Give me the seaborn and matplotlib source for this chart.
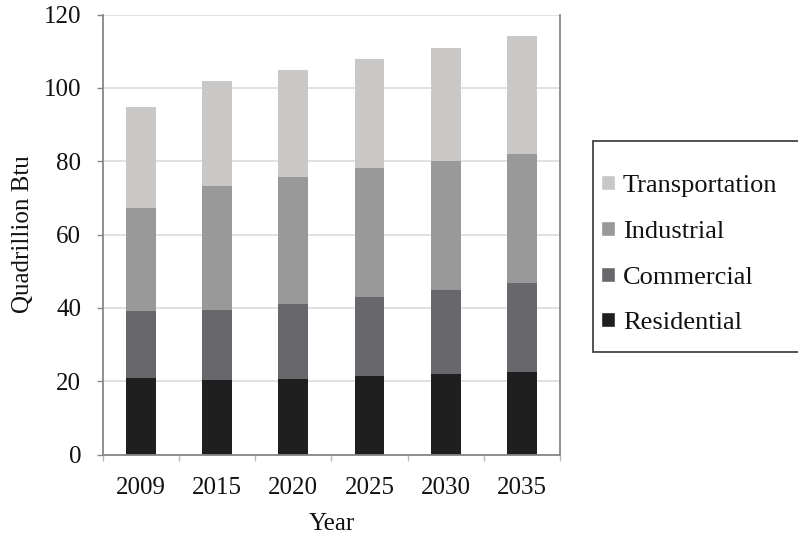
import matplotlib
matplotlib.use("Agg")
import matplotlib.pyplot as plt
import seaborn as sns
import pandas as pd
import numpy as np
from matplotlib.patches import Rectangle, Patch

years = ["2009", "2015", "2020", "2025", "2030", "2035"]
residential = [20.9, 20.3, 20.6, 21.4, 21.9, 22.5]
commercial = [18.2, 19.0, 20.4, 21.5, 23.0, 24.2]
industrial = [28.1, 34.0, 34.8, 35.4, 35.3, 35.4]
transportation = [27.5, 28.7, 29.1, 29.6, 30.8, 32.1]

sectors = ["Residential", "Commercial", "Industrial", "Transportation"]
colors = {"Residential": "#201f1f", "Commercial": "#68686c",
          "Industrial": "#999999", "Transportation": "#c9c8c6"}

df = pd.DataFrame({"Year": years, "Residential": residential,
                   "Commercial": commercial, "Industrial": industrial,
                   "Transportation": transportation})
cum = df[sectors].cumsum(axis=1)
cum["Year"] = df["Year"]

sns.set_theme(style="white")
plt.rcParams["font.family"] = ["Liberation Serif", "DejaVu Serif"]

fig = plt.figure(figsize=(7.98, 5.36), dpi=100)
ax = fig.add_axes([102.7 / 798, 1 - 454.5 / 536, (560 - 102.7) / 798, (454.5 - 14.7) / 536])

for s in reversed(sectors):
    sns.barplot(data=cum, x="Year", y=s, color=colors[s], width=0.39,
                saturation=1, ax=ax, zorder=2, edgecolor="none")

ax.set_ylim(0, 120)
ax.set_xlim(-0.5, 5.5)
ax.set_yticks(np.arange(0, 121, 20))
ax.yaxis.grid(True, color="#d9d9d9", linewidth=1.1, zorder=0)
ax.set_axisbelow(True)

gray = "#868686"
for side in ["left", "right", "bottom"]:
    ax.spines[side].set_visible(True)
    ax.spines[side].set_color(gray)
    ax.spines[side].set_linewidth(1.3)
ax.spines["top"].set_visible(False)

ax.tick_params(axis="y", which="major", direction="out", length=4.5, width=1,
               color=gray, pad=11, labelsize=18, labelcolor="#111111", left=True)
ax.set_xticks(range(len(years)))
ax.set_xticklabels(years)
ax.set_xticks(np.arange(-0.5, 6, 1.0), minor=True)
ax.tick_params(axis="x", which="major", length=0, pad=16, labelsize=18, labelcolor="#111111")
ax.tick_params(axis="x", which="minor", direction="out", length=4.5, width=1,
               color="#bbbbbb", bottom=True)

ax.set_ylabel("Quadrillion Btu", fontsize=18, color="#111111", labelpad=7)
ax.set_xlabel("Year", fontsize=18, color="#111111", labelpad=10)

# Legend box
fig.patches.append(Rectangle((592.7 / 798, 1 - 352 / 536), 0.4, (352 - 141) / 536,
                             transform=fig.transFigure, facecolor="white",
                             edgecolor="#444444", linewidth=1.3, zorder=5))
handles = [Patch(facecolor=colors[s], label=s) for s in reversed(sectors)]
leg = fig.legend(handles=handles, loc="upper left",
                 bbox_to_anchor=(601 / 798, 1 - 175 / 536),
                 frameon=False, fontsize=19, handlelength=0.53, handleheight=0.5,
                 handletextpad=0.3, labelspacing=0.9, borderaxespad=0,
                 borderpad=0)
leg.set_zorder(6)
for t in leg.get_texts():
    t.set_color("#111111")

fig.savefig("out.png", dpi=100)
